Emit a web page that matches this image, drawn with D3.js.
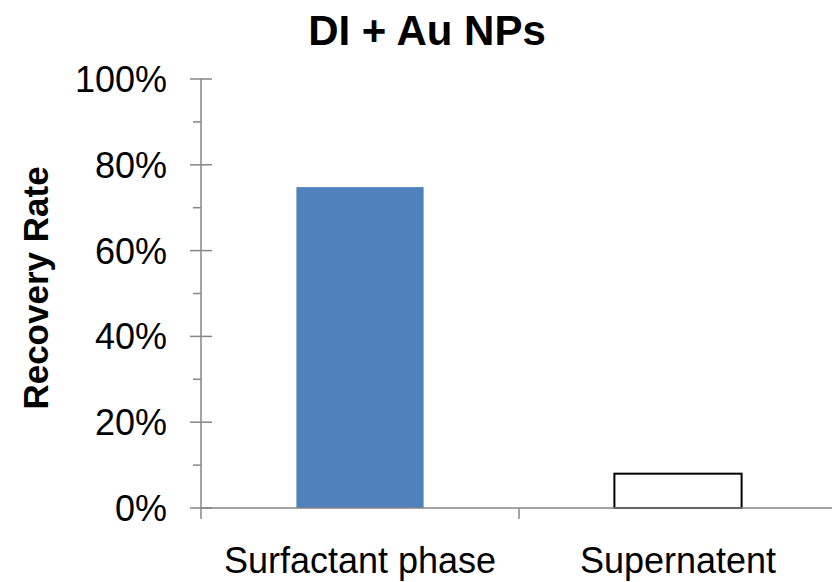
<!DOCTYPE html>
<html lang="en">
<head>
  <meta charset="UTF-8">
  <title>DI + Au NPs</title>
  <script src="https://d3js.org/d3.v7.min.js"></script>
  <style>
    body { margin: 0; background: #fff; font-family: "Liberation Sans", Arial, sans-serif; }
    .axis-line { stroke: #868686; stroke-width: 1.5; }
  </style>
</head>
<body>
  <svg width="832" height="582"></svg>
  <script>
    const categories = ["Surfactant phase", "Supernatent"];
    const values = [0.748, 0.08];
    const fills = ["#4F81BD", "#FFFFFF"];
    const strokes = ["none", "#000000"];
    const majorTicks = [0, 0.2, 0.4, 0.6, 0.8, 1.0];
    const minorTicks = [0.1, 0.3, 0.5, 0.7, 0.9];

    const svg = d3.select("svg");
    const plotLeft = 201, plotRight = 837, plotTop = 79, plotBottom = 508;

    const x = d3.scaleBand()
      .domain(categories)
      .range([plotLeft, plotRight])
      .paddingInner(0.6)
      .paddingOuter(0.3);

    const y = d3.scaleLinear().domain([0, 1]).range([plotBottom, plotTop]);

    // bars
    svg.selectAll(".bar")
      .data(values)
      .enter()
      .append("rect")
      .attr("class", "bar")
      .attr("x", (d, i) => x(categories[i]))
      .attr("width", x.bandwidth())
      .attr("y", d => y(d))
      .attr("height", d => y(0) - y(d))
      .attr("fill", (d, i) => fills[i])
      .attr("stroke", (d, i) => strokes[i])
      .attr("stroke-width", 2);

    // y axis
    svg.append("line").attr("class", "axis-line")
      .attr("x1", plotLeft).attr("x2", plotLeft).attr("y1", plotTop).attr("y2", plotBottom + 11);
    svg.selectAll(".ymajor").data(majorTicks).enter().append("line")
      .attr("class", "axis-line")
      .attr("x1", plotLeft - 11).attr("x2", plotLeft + 11)
      .attr("y1", d => y(d)).attr("y2", d => y(d));
    svg.selectAll(".yminor").data(minorTicks).enter().append("line")
      .attr("class", "axis-line")
      .attr("x1", plotLeft - 8).attr("x2", plotLeft)
      .attr("y1", d => y(d)).attr("y2", d => y(d));
    svg.selectAll(".ylabel").data(majorTicks).enter().append("text")
      .attr("x", 167).attr("y", d => y(d))
      .attr("dy", "0.36em")
      .attr("text-anchor", "end")
      .style("font-size", "36px")
      .text(d3.format(".0%"));

    // x axis
    svg.append("line").attr("class", "axis-line")
      .attr("x1", plotLeft).attr("x2", 832).attr("y1", plotBottom).attr("y2", plotBottom);
    const step = x.step();
    svg.selectAll(".xtick").data(categories).enter().append("line")
      .attr("class", "axis-line")
      .attr("x1", (d, i) => plotLeft + step * (i + 1))
      .attr("x2", (d, i) => plotLeft + step * (i + 1))
      .attr("y1", plotBottom).attr("y2", plotBottom + 11);
    svg.selectAll(".xlabel").data(categories).enter().append("text")
      .attr("x", d => x(d) + x.bandwidth() / 2)
      .attr("y", 573)
      .attr("text-anchor", "middle")
      .style("font-size", "36px")
      .text(d => d);

    // titles
    svg.append("text")
      .attr("x", 427).attr("y", 45)
      .attr("text-anchor", "middle")
      .style("font-size", "42px").style("font-weight", "bold")
      .text("DI + Au NPs");
    svg.append("text")
      .attr("transform", "translate(48,288) rotate(-90)")
      .attr("text-anchor", "middle")
      .style("font-size", "35px").style("font-weight", "bold")
      .text("Recovery Rate");
  </script>
</body>
</html>
